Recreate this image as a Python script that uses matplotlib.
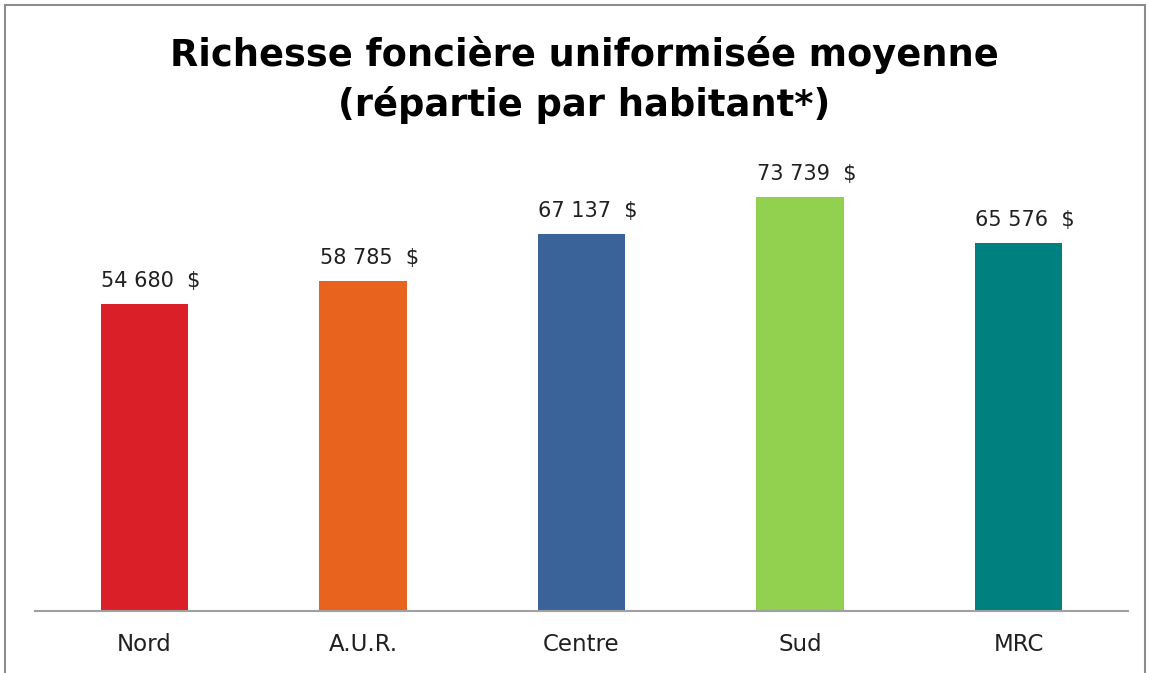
import matplotlib
matplotlib.use('Agg')
from matplotlib import pyplot as plt
from matplotlib.patches import Rectangle

categories = ['Nord', 'A.U.R.', 'Centre', 'Sud', 'MRC']
values = [54680, 58785, 67137, 73739, 65576]
labels = ['54 680  $', '58 785  $', '67 137  $', '73 739  $', '65 576  $']
colors = ['#DA1F28', '#E8641E', '#3A6399', '#92D050', '#00807F']

plt.rcParams['font.family'] = ['DejaVu Sans']

fig = plt.figure(figsize=(11.5, 6.73), dpi=100)
ax = fig.add_axes([0.0304, 0.0921, 0.9505, 0.667])

x = range(len(categories))
ax.bar(x, values, width=0.40, color=colors)
for i, v in enumerate(values):
    ax.text(i + 0.03, v + 2300, labels[i], ha='center', va='bottom',
            fontsize=15, color='#202020')

ax.set_xlim(-0.5, 4.5)
ax.set_ylim(0, 80000)
ax.set_xticks(list(x))
ax.set_xticklabels(categories, fontsize=16.5, color='#202020')
ax.tick_params(axis='x', length=0, pad=16)
ax.set_yticks([])
for s in ['top', 'right', 'left']:
    ax.spines[s].set_visible(False)
ax.spines['bottom'].set_color('#a0a0a0')
ax.spines['bottom'].set_linewidth(1.5)

fig.text(0.508, 0.881, 'Richesse foncière uniformisée moyenne\n(répartie par habitant*)',
         ha='center', va='center', fontsize=26.5, fontweight='bold',
         linespacing=1.4, color='black')

# chart border
fig.patches.append(Rectangle((5 / 1150, -0.1), 1140 / 1150, 1 - 5 / 673 + 0.1,
                             transform=fig.transFigure, fill=False,
                             edgecolor='#8c8c8c', linewidth=1.5))

fig.savefig('out.png', dpi=100)
